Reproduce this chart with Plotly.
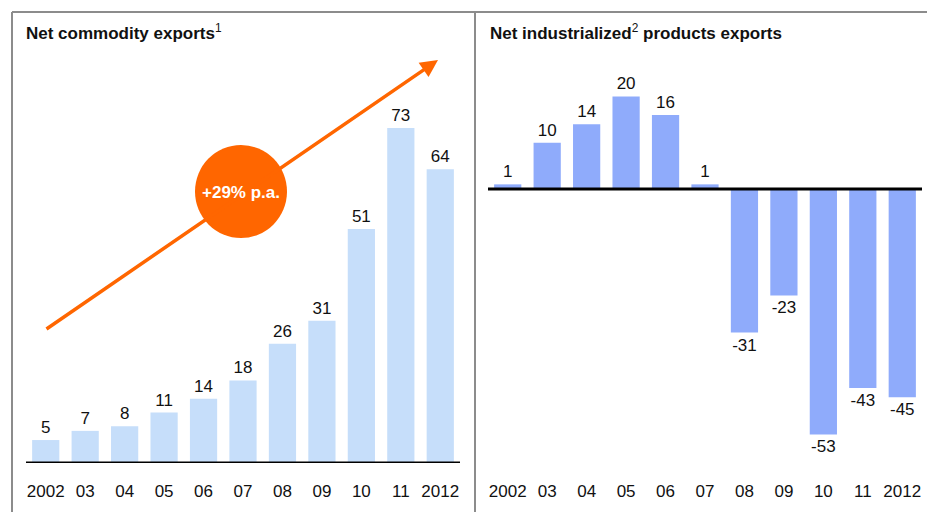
import plotly.graph_objects as go

# --- DATA ---
years = ["2002", "03", "04", "05", "06", "07", "08", "09", "10", "11", "2012"]
commodity_exports = [5, 7, 8, 11, 14, 18, 26, 31, 51, 73, 64]
industrial_exports = [1, 10, 14, 20, 16, 1, -31, -23, -53, -43, -45]
growth_label = "+29% p.a."

W, H = 927, 512
FONT = "Arial, Liberation Sans, sans-serif"
TXT = "#111111"


def px_x(v):
    return v / W


def px_y(v):
    return 1 - v / H


fig = go.Figure()

fig.add_trace(go.Bar(
    x=years, y=commodity_exports,
    text=[str(v) for v in commodity_exports], textposition="outside",
    textfont=dict(size=17, color=TXT, family=FONT),
    marker=dict(color="#c6defa", line=dict(width=0)),
    cliponaxis=False, xaxis="x", yaxis="y",
))
fig.add_trace(go.Bar(
    x=years, y=industrial_exports,
    text=[str(v) for v in industrial_exports], textposition="outside",
    textfont=dict(size=17, color=TXT, family=FONT),
    marker=dict(color="#8fabfb", line=dict(width=0)),
    cliponaxis=False, xaxis="x2", yaxis="y2",
))

bottom = 1 - 463 / H
axis_common = dict(showgrid=False, zeroline=False, showline=False, ticks="",
                   tickfont=dict(size=17, color=TXT, family=FONT),
                   ticklabelstandoff=16, fixedrange=True)

fig.update_layout(
    width=W, height=H,
    margin=dict(l=0, r=0, t=0, b=0),
    paper_bgcolor="white", plot_bgcolor="rgba(0,0,0,0)",
    showlegend=False, bargap=0.31,
    font=dict(family=FONT),
    xaxis=dict(domain=[px_x(26), px_x(460)], anchor="y", range=[-0.5, 10.5], **axis_common),
    yaxis=dict(domain=[bottom, 1], range=[0, 463 / 4.59], visible=False, fixedrange=True),
    xaxis2=dict(domain=[px_x(488), px_x(922)], anchor="y2", range=[-0.5, 10.5], **axis_common),
    yaxis2=dict(domain=[bottom, 1], range=[-274 / 4.63, 189 / 4.63], visible=False, fixedrange=True),
)

border = dict(color="#8c8c8c", width=2)
fig.add_shape(type="line", xref="paper", yref="paper", x0=px_x(12), x1=1, y0=px_y(12), y1=px_y(12), line=border)
fig.add_shape(type="line", xref="paper", yref="paper", x0=px_x(12), x1=px_x(12), y0=px_y(12), y1=0, line=border)
fig.add_shape(type="line", xref="paper", yref="paper", x0=px_x(475), x1=px_x(475), y0=px_y(12), y1=0, line=border)

# baselines
fig.add_shape(type="line", xref="x domain", yref="y", x0=0, x1=1, y0=0, y1=0, line=dict(color="black", width=3))
fig.add_shape(type="line", xref="x2 domain", yref="y2", x0=0, x1=1, y0=0, y1=0, line=dict(color="black", width=3))

# growth arrow and circle
fig.add_annotation(xref="paper", yref="paper", x=px_x(438), y=px_y(60),
                   axref="pixel", ayref="pixel", ax=45 - 438, ay=330 - 60,
                   showarrow=True, arrowhead=2, arrowsize=1, arrowwidth=3.5,
                   arrowcolor="#ff6600", text="")
fig.add_shape(type="circle", xref="paper", yref="paper",
              x0=px_x(195), x1=px_x(287), y0=px_y(238), y1=px_y(145),
              fillcolor="#ff6600", line=dict(width=0))
fig.add_annotation(xref="paper", yref="paper", x=px_x(241), y=px_y(192),
                   xanchor="center", yanchor="middle",
                   text="<b>" + growth_label + "</b>", showarrow=False,
                   font=dict(size=17, color="white", family=FONT))

# titles
fig.add_annotation(xref="paper", yref="paper", x=px_x(24), y=px_y(32), xanchor="left", yanchor="middle",
                   text="<b>Net commodity exports</b><sup>1</sup>", showarrow=False,
                   font=dict(size=17, color=TXT, family=FONT))
fig.add_annotation(xref="paper", yref="paper", x=px_x(488), y=px_y(32), xanchor="left", yanchor="middle",
                   text="<b>Net industrialized</b><sup>2</sup><b> products exports</b>", showarrow=False,
                   font=dict(size=17, color=TXT, family=FONT))

fig.write_html("out.html", config={"displayModeBar": False},
               post_script="document.body.style.margin='0';")
